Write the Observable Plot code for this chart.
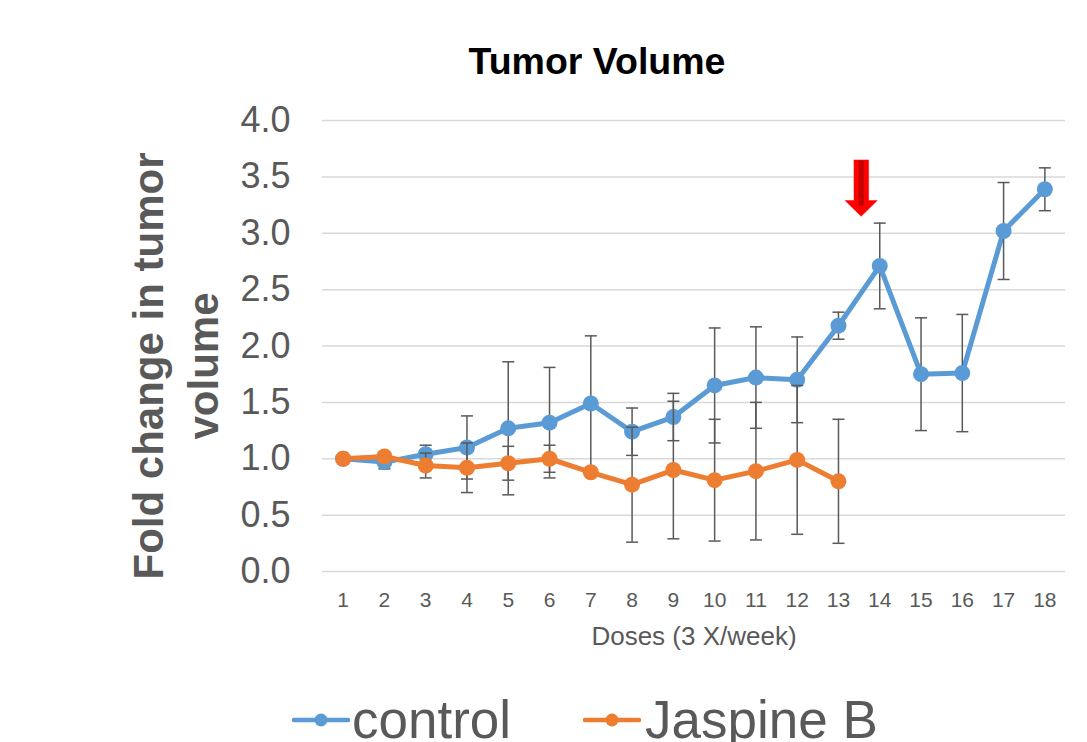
<!DOCTYPE html>
<html>
<head>
<meta charset="utf-8">
<script src="https://cdn.jsdelivr.net/npm/d3@7"></script>
<script src="https://cdn.jsdelivr.net/npm/@observablehq/plot@0.6"></script>
<style>
  html, body { margin: 0; padding: 0; background: #fff; overflow: hidden; }
  body { width: 1087px; height: 742px; font-family: "Liberation Sans", Arial, sans-serif; }
  #title { position: relative; height: 95px; }
  #title span { position: absolute; left: 297px; width: 600px; top: 43px; text-align: center;
    font-weight: bold; font-size: 37.5px; line-height: 37.5px; color: #000; }
  #chart svg { display: block; }
  #legend { position: relative; height: 82px; }
  .item { position: absolute; top: 33px; font-size: 53px; line-height: 53px; color: #595959; white-space: nowrap; }
  .item svg { position: absolute; top: 0; }
</style>
</head>
<body>
<div id="title"><span>Tumor Volume</span></div>
<div id="chart"></div>
<div id="legend"></div>
<script>
// ---- data ----
const doses = [1, 2, 3, 4, 5, 6, 7, 8, 9, 10, 11, 12, 13, 14, 15, 16, 17, 18];
const controlMean = [1.00, 0.97, 1.04, 1.10, 1.27, 1.32, 1.49, 1.24, 1.37, 1.65, 1.72, 1.70, 2.18, 2.71, 1.75, 1.76, 3.02, 3.39];
const controlErr  = [0.00, 0.06, 0.08, 0.28, 0.59, 0.49, 0.60, 0.21, 0.21, 0.51, 0.45, 0.38, 0.12, 0.38, 0.50, 0.52, 0.43, 0.19];
const jaspineDoses = [1, 2, 3, 4, 5, 6, 7, 8, 9, 10, 11, 12, 13];
const jaspineMean = [1.00, 1.02, 0.94, 0.92, 0.96, 1.00, 0.88, 0.77, 0.90, 0.81, 0.89, 0.99, 0.80];
const jaspineErr  = [0.00, 0.03, 0.11, 0.22, 0.15, 0.12, 0.03, 0.51, 0.61, 0.54, 0.61, 0.66, 0.55];
const seriesNames = ["control", "Jaspine B"];
const seriesColors = ["#5b9bd5", "#ed7d31"];
const yTicks = [0, 0.5, 1, 1.5, 2, 2.5, 3, 3.5, 4];
const titleText = "Tumor Volume";
const yLabel = "Fold change in tumor\nvolume";
const xLabel = "Doses (3 X/week)";
// red arrow annotation (data coordinates)
const arrowX = 13.55;
const arrowTop = 3.65;
const arrowHeadBase = 3.29;
const arrowTip = 3.15;

// ---- build tables ----
const control = doses.map((d, i) => ({dose: d, mean: controlMean[i], err: controlErr[i]}));
const jaspine = jaspineDoses.map((d, i) => ({dose: d, mean: jaspineMean[i], err: jaspineErr[i]}));

const shaftHalf = 0.18, headHalf = 0.39;
const arrowPoly = [
  [arrowX - shaftHalf, arrowTop], [arrowX + shaftHalf, arrowTop],
  [arrowX + shaftHalf, arrowHeadBase], [arrowX + headHalf, arrowHeadBase],
  [arrowX, arrowTip], [arrowX - headHalf, arrowHeadBase],
  [arrowX - shaftHalf, arrowHeadBase]
];

const capSymbol = { draw(ctx) { ctx.moveTo(-6, 0); ctx.lineTo(6, 0); } };
const errColor = "#595959";

function seriesMarks(data, color) {
  const withErr = data.filter(d => d.err > 0);
  return [
    Plot.line(data, {x: "dose", y: "mean", stroke: color, strokeWidth: 5, strokeLinejoin: "round"}),
    Plot.ruleX(withErr, {x: "dose", y1: d => d.mean - d.err, y2: d => d.mean + d.err, stroke: errColor, strokeWidth: 1.5}),
    Plot.dot(withErr, {x: "dose", y: d => d.mean + d.err, symbol: capSymbol, stroke: errColor, strokeWidth: 1.5, fill: "none", r: 6}),
    Plot.dot(withErr, {x: "dose", y: d => d.mean - d.err, symbol: capSymbol, stroke: errColor, strokeWidth: 1.5, fill: "none", r: 6}),
    Plot.dot(data, {x: "dose", y: "mean", r: 8, fill: color, stroke: "none"})
  ];
}

const chart = Plot.plot({
  width: 1087,
  height: 565,
  marginTop: 25,
  marginBottom: 89,
  marginLeft: 322,
  marginRight: 22,
  style: {fontFamily: "'Liberation Sans', Arial, sans-serif", color: "#595959", background: "#fff"},
  x: {domain: [0.5, 18.5], label: null},
  y: {domain: [0, 4], label: null},
  marks: [
    Plot.gridY(yTicks, {stroke: "#d9d9d9", strokeOpacity: 1, strokeWidth: 1.5}),
    Plot.axisY(yTicks, {tickSize: 0, tickPadding: 32, fontSize: 36, tickFormat: d => d.toFixed(1), label: null}),
    Plot.axisX(doses, {tickSize: 0, tickPadding: 21, fontSize: 21, tickFormat: d => String(d), label: null}),
    Plot.text([xLabel], {frameAnchor: "bottom", dy: 65, fontSize: 26, lineAnchor: "middle", fill: "#595959"}),
    Plot.text([yLabel], {frameAnchor: "left", dx: -150, dy: 20, rotate: -90, fontSize: 42, fontWeight: "bold",
      lineHeight: 1.31, lineAnchor: "middle", textAnchor: "middle", fill: "#595959"}),
    ...seriesMarks(control, seriesColors[0]),
    ...seriesMarks(jaspine, seriesColors[1]),
    Plot.line(arrowPoly, {x: d => d[0], y: d => d[1], fill: "#ff0000", stroke: "#ff0000", strokeWidth: 0.5}),
    Plot.ruleX([arrowX], {y1: arrowTop - 0.01, y2: arrowHeadBase - 0.05, stroke: "#c00000", strokeWidth: 5})
  ]
});
document.getElementById("chart").appendChild(chart);

// ---- legend ----
const legend = document.getElementById("legend");
const legendPos = [{marker: 292, text: 352}, {marker: 583, text: 645}];
seriesNames.forEach((name, i) => {
  const m = document.createElement("div");
  m.className = "item";
  m.style.left = legendPos[i].marker + "px";
  m.innerHTML = `<svg width="58" height="53" style="left:0"><line x1="2" x2="56" y1="27" y2="27" stroke="${seriesColors[i]}" stroke-width="4.5" stroke-linecap="round"/><circle cx="29" cy="27" r="6.5" fill="${seriesColors[i]}"/></svg>`;
  legend.appendChild(m);
  const t = document.createElement("div");
  t.className = "item";
  t.style.left = legendPos[i].text + "px";
  t.textContent = name;
  legend.appendChild(t);
});
</script>
</body>
</html>
